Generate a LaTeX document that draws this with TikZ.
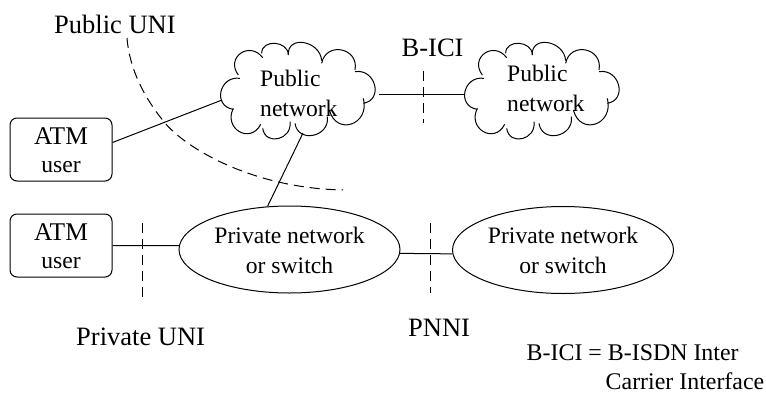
\documentclass[tikz,border=0pt]{standalone}
\usepackage{fontspec}
\setmainfont{Liberation Serif}
\usetikzlibrary{calc,shapes.geometric}
\newcommand{\lobepath}[3]{\draw[lobeline] (#1) .. controls ($(#1)+1.333*(#2)-0.667*(#1)-0.667*(#3)$) and ($(#3)+1.333*(#2)-0.667*(#1)-0.667*(#3)$) .. (#3);}
\newcommand{\cloudshape}{%
  \lobepath{120,175}{63,215}{100,268}
  \lobepath{100,265}{118,335}{182,313}
  \lobepath{188,325}{235,356}{270,305}
  \lobepath{285,310}{340,346}{382,290}
  \lobepath{388,270}{455,312}{490,235}
  \lobepath{490,250}{524,195}{465,155}
  \lobepath{365,130}{425,90}{465,150}
  \lobepath{265,105}{312,68}{365,122}
  \lobepath{185,100}{225,70}{265,105}
  \lobepath{115,165}{122,100}{188,113}
}
\newcommand{\fs}[1]{\fontsize{#1}{30}\selectfont}
\tikzset{
  lobeline/.style={line width=1pt},
  wire/.style={line width=1pt},
  dashwire/.style={line width=1pt,dash pattern=on 10pt off 6pt},
  atmbox/.style={draw,line width=1pt,rounded corners=7pt,minimum width=102pt,minimum height=63pt,inner sep=0pt},
  netell/.style={draw,ellipse,line width=1pt,minimum width=221pt,minimum height=87pt,inner sep=0pt},
  lbl/.style={inner sep=0pt,anchor=base west},
  ctr/.style={inner sep=0pt,anchor=base},
}
\begin{document}
\begin{tikzpicture}[x=1pt,y=-1pt,font=\fs{23.6}]
\useasboundingbox (0,0) rectangle (766,394);
\begin{scope}[shift={(200,20)},scale=1/3]\cloudshape\end{scope}
\begin{scope}[shift={(444,20)},scale=1/3]\cloudshape\end{scope}
\node[lbl] (cl1a) at (260,86.7) {Public};
\node[lbl] (cl1b) at (260,116) {network};
\node[lbl] (cl2a) at (507,81.7) {Public};
\node[lbl] (cl2b) at (507,111) {network};
\coordinate (c1w) at (222,100);
\coordinate (c1s) at (303,133);
\coordinate (c1e) at (379,94);
\coordinate (c2w) at (465,94);
\node[atmbox] (u1) at (61,149.5) {};
\node[atmbox] (u2) at (61,245.5) {};
\node[ctr] (u1a) at (61,144) {\fs{25.5}ATM};
\node[ctr] (u1b) at (61,172.7) {user};
\node[ctr] (u2a) at (61,240) {\fs{25.5}ATM};
\node[ctr] (u2b) at (61,268.5) {user};
\node[netell] (p1) at (289.5,249.5) {};
\node[netell] (p2) at (563,250) {};
\node[ctr] (p1a) at (289.5,243) {Private network};
\node[ctr] (p1b) at (289.5,273) {or switch};
\node[ctr] (p2a) at (563,243) {Private network};
\node[ctr] (p2b) at (563,273) {or switch};
\draw[wire] (u1.east) ++(0,-7) -- (c1w);
\draw[wire] (u2.east) -- (p1.178);
\draw[wire] (c1e) -- (c2w);
\draw[wire] (c1s) -- (p1.117);
\draw[wire] (p1.-2.3) -- (p2.182.3);
\coordinate (d1a) at (423,70.7);\coordinate (d1b) at (423,122.7);
\coordinate (d2a) at (142,222.7);\coordinate (d2b) at (142,302);
\coordinate (d3a) at (430,222.7);\coordinate (d3b) at (430,293);
\coordinate (d4a) at (127,38);\coordinate (d4m) at (165,123);\coordinate (d4b) at (343,190);
\draw[dashwire] (d1a) -- (d1b);
\draw[dashwire] (d2a) -- (d2b);
\draw[dashwire] (d3a) -- (d3b);
\draw[dashwire] (d4a) .. controls (130,75) and (150,105) .. (d4m) .. controls (185,147) and (250,188) .. (d4b);
\node[lbl] (t1) at (54,33) {\fs{26.5}Public UNI};
\node[lbl] (t2) at (401.5,56.6) {\fs{26.5}B-ICI};
\node[lbl] (t3) at (76,345) {\fs{26.5}Private UNI};
\node[lbl] (t4) at (408,336.7) {\fs{26.5}PNNI};
\node[lbl] (t5) at (526.5,360.7) {\fs{23.9}B-ICI = B-ISDN Inter};
\node[lbl] (t6) at (605.5,389) {\fs{23.9}Carrier Interface};
\end{tikzpicture}
\end{document}
